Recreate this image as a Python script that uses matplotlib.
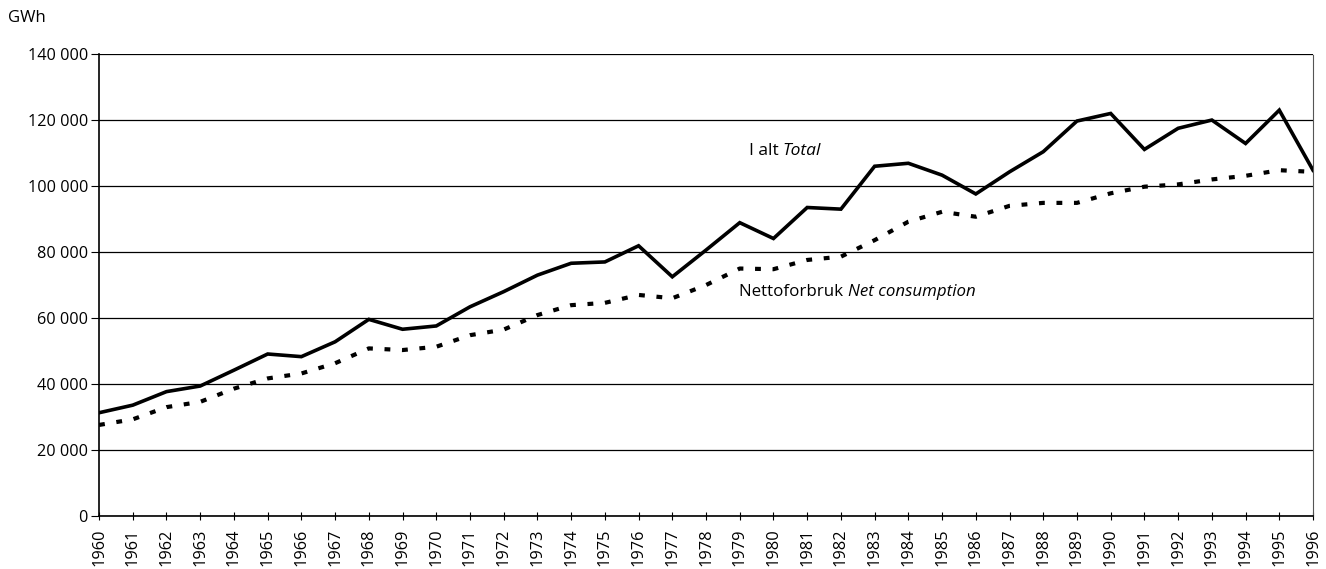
import numpy as np
import matplotlib.pyplot as plt
from matplotlib.ticker import FuncFormatter

# Electricity, GWh, 1960-1996
years = list(range(1960, 1997))
total = [31300, 33600, 37700, 39400, 44200, 49100, 48300, 52800, 59600, 56600,
         57600, 63400, 68000, 73000, 76600, 77000, 81900, 72500, 80600, 88900,
         84100, 93500, 93000, 106000, 106900, 103300, 97600, 104300, 110400, 119700,
         122000, 111100, 117500, 120000, 112900, 123000, 104800]
net = [27600, 29300, 33000, 34600, 38600, 41700, 43200, 46300, 50800, 50300,
       51300, 54800, 56500, 60900, 63900, 64600, 67000, 66000, 70000, 75000,
       74800, 77600, 78600, 83600, 89200, 92200, 90700, 94000, 94900, 94900,
       97800, 99800, 100500, 102000, 103100, 104800, 104300]
yticks = [0, 20000, 40000, 60000, 80000, 100000, 120000, 140000]

plt.rcParams['font.family'] = ['Open Sans', 'DejaVu Sans']

fig = plt.figure(figsize=(13.26, 5.69), dpi=100)
ax = fig.add_axes([0.0747, 0.0931, 0.9155, 0.8119])

ax.plot(years, total, color='black', lw=2.6, solid_joinstyle='miter', zorder=3)
ax.plot(years, net, color='black', lw=3.0, linestyle=(0, (1.4, 2.8)), zorder=3)

ax.set_xlim(1960, 1996)
ax.set_ylim(0, 140000)
ax.set_xticks(years)
ax.set_xticklabels([str(y) for y in years], rotation=90, fontsize=11.8)
ax.set_yticks(yticks)
ax.yaxis.set_major_formatter(FuncFormatter(lambda v, p: f'{int(v):,}'.replace(',', ' ')))
ax.tick_params(axis='y', labelsize=11.7, length=6, width=0.8, direction='out', pad=2)
ax.tick_params(axis='x', length=6, width=0.8, direction='inout', pad=6)
ax.grid(axis='y', color='black', lw=0.9)
ax.set_axisbelow(True)

for s in ['left', 'bottom']:
    ax.spines[s].set_linewidth(1.2)
ax.spines['right'].set_color('#555555')
ax.spines['right'].set_linewidth(0.8)
ax.spines['right'].set_linestyle((0, (1, 1)))
ax.spines['top'].set_visible(False)

ax.text(1980.28, 110700, 'I alt ', ha='right', va='center', fontsize=12.5)
ax.text(1980.28, 110700, 'Total', ha='left', va='center', fontsize=12.5, style='italic')
ax.text(1982.2, 67900, 'Nettoforbruk ', ha='right', va='center', fontsize=12.2)
ax.text(1982.2, 67900, 'Net consumption', ha='left', va='center', fontsize=12.2, style='italic')

fig.text(8 / 1326, 1 - 18 / 569, 'GWh', ha='left', va='center', fontsize=12)

fig.savefig('out.png', dpi=100)
